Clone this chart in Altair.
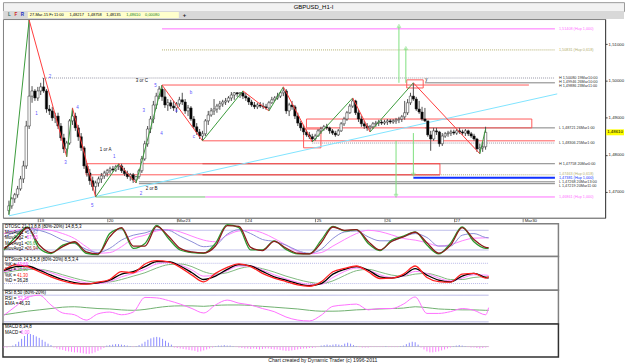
import altair as alt
import pandas as pd

FONT = "Liberation Sans"

# ---------------- GBPUSD H1 bars ----------------
first_open = 1.4649
bar_close = [1.4662, 1.4681, 1.4692, 1.4708, 1.4735, 1.4770, 1.4878, 1.4959, 1.4973, 1.4954,
             1.4973, 1.4984, 1.4973, 1.4924, 1.4919, 1.4900, 1.4905, 1.4878, 1.4846, 1.4816,
             1.4832, 1.4892, 1.4905, 1.4873, 1.4849, 1.4819, 1.4770, 1.4751, 1.4730, 1.4714,
             1.4724, 1.4735, 1.4743, 1.4751, 1.4757, 1.4762, 1.4759, 1.4768, 1.4770, 1.4757,
             1.4749, 1.4741, 1.4746, 1.4732, 1.4741, 1.4757, 1.4789, 1.4830, 1.4870, 1.4897,
             1.4935, 1.4959, 1.4978, 1.4957, 1.4935, 1.4941, 1.4932, 1.4927, 1.4938, 1.4949,
             1.4943, 1.4919, 1.4927, 1.4897, 1.4876, 1.4862, 1.4851, 1.4857, 1.4892, 1.4908,
             1.4919, 1.4924, 1.4932, 1.4938, 1.4943, 1.4946, 1.4954, 1.4962, 1.4968, 1.4965,
             1.4968, 1.4959, 1.4954, 1.4943, 1.4935, 1.4930, 1.4935, 1.4932, 1.4930, 1.4927,
             1.4941, 1.4949, 1.4954, 1.4959, 1.4968, 1.4973, 1.4919, 1.4935, 1.4930, 1.4905,
             1.4886, 1.4873, 1.4862, 1.4854, 1.4849, 1.4843, 1.4851, 1.4865, 1.4870, 1.4876,
             1.4873, 1.4865, 1.4859, 1.4854, 1.4865, 1.4884, 1.4897, 1.4914, 1.4932, 1.4946,
             1.4914, 1.4897, 1.4884, 1.4878, 1.4873, 1.4876, 1.4884, 1.4886, 1.4889, 1.4886,
             1.4889, 1.4892, 1.4889, 1.4892, 1.4895, 1.4897, 1.4903, 1.4914, 1.4941, 1.4959,
             1.4951, 1.4924, 1.4916, 1.4897, 1.4892, 1.4854, 1.4843, 1.4865, 1.4862, 1.4830,
             1.4851, 1.4857, 1.4859, 1.4862, 1.4859, 1.4865, 1.4862, 1.4859, 1.4865, 1.4857,
             1.4851, 1.4843, 1.4816, 1.4819, 1.4822, 1.4861]
bar_high = [1.4676, 1.4686, 1.4697, 1.4716, 1.4743, 1.4784, 1.4892, 1.5165, 1.4986, 1.4978,
            1.4984, 1.4995, 1.5008, 1.4978, 1.4935, 1.4930, 1.4914, 1.4914, 1.4886, 1.4857,
            1.4838, 1.4897, 1.4927, 1.4914, 1.4881, 1.4859, 1.4824, 1.4778, 1.4762, 1.4741,
            1.4730, 1.4741, 1.4751, 1.4757, 1.4762, 1.4768, 1.4770, 1.4773, 1.4776, 1.4776,
            1.4765, 1.4757, 1.4751, 1.4751, 1.4743, 1.4762, 1.4797, 1.4838, 1.4878, 1.4905,
            1.4946, 1.4968, 1.4986, 1.4989, 1.4978, 1.4951, 1.4949, 1.4946, 1.4943, 1.4957,
            1.4968, 1.4951, 1.4935, 1.4932, 1.4905, 1.4886, 1.4870, 1.4865, 1.4897, 1.4919,
            1.4927, 1.4951, 1.4938, 1.4946, 1.4949, 1.4954, 1.4959, 1.4970, 1.4970, 1.4970,
            1.4970, 1.4973, 1.4968, 1.4957, 1.4949, 1.4943, 1.4941, 1.4943, 1.4941, 1.4938,
            1.4946, 1.4957, 1.4959, 1.4968, 1.4973, 1.4984, 1.4978, 1.4941, 1.4946, 1.4935,
            1.4914, 1.4892, 1.4881, 1.4868, 1.4862, 1.4857, 1.4857, 1.4870, 1.4876, 1.4881,
            1.4884, 1.4876, 1.4870, 1.4865, 1.4870, 1.4889, 1.4903, 1.4919, 1.4938, 1.4954,
            1.4949, 1.4924, 1.4905, 1.4892, 1.4886, 1.4881, 1.4889, 1.4892, 1.4895, 1.4895,
            1.4895, 1.4897, 1.4897, 1.4897, 1.4900, 1.4903, 1.4908, 1.4946, 1.4951, 1.4968,
            1.4995, 1.4957, 1.4946, 1.4930, 1.4927, 1.4886, 1.4865, 1.4873, 1.4873, 1.4865,
            1.4859, 1.4862, 1.4865, 1.4868, 1.4868, 1.4870, 1.4873, 1.4868, 1.4870, 1.4868,
            1.4862, 1.4857, 1.4846, 1.4830, 1.4835, 1.4876]
bar_low = [1.4638, 1.4654, 1.4670, 1.4684, 1.4703, 1.4724, 1.4762, 1.4870, 1.4941, 1.4946,
           1.4946, 1.4962, 1.4968, 1.4914, 1.4908, 1.4892, 1.4886, 1.4870, 1.4838, 1.4805,
           1.4795, 1.4827, 1.4881, 1.4865, 1.4838, 1.4811, 1.4762, 1.4741, 1.4719, 1.4703,
           1.4686, 1.4714, 1.4724, 1.4735, 1.4741, 1.4749, 1.4754, 1.4754, 1.4759, 1.4751,
           1.4743, 1.4735, 1.4730, 1.4724, 1.4724, 1.4735, 1.4751, 1.4784, 1.4822, 1.4859,
           1.4886, 1.4924, 1.4951, 1.4946, 1.4927, 1.4919, 1.4924, 1.4919, 1.4914, 1.4930,
           1.4935, 1.4911, 1.4905, 1.4892, 1.4870, 1.4854, 1.4843, 1.4838, 1.4851, 1.4881,
           1.4903, 1.4908, 1.4914, 1.4922, 1.4930, 1.4935, 1.4941, 1.4946, 1.4949, 1.4957,
           1.4954, 1.4951, 1.4946, 1.4935, 1.4930, 1.4924, 1.4924, 1.4927, 1.4924, 1.4922,
           1.4919, 1.4938, 1.4946, 1.4949, 1.4954, 1.4959, 1.4911, 1.4905, 1.4922, 1.4897,
           1.4878, 1.4865, 1.4854, 1.4849, 1.4843, 1.4835, 1.4838, 1.4849, 1.4857, 1.4865,
           1.4868, 1.4857, 1.4854, 1.4849, 1.4851, 1.4862, 1.4878, 1.4892, 1.4911, 1.4927,
           1.4908, 1.4889, 1.4876, 1.4870, 1.4865, 1.4862, 1.4870, 1.4876, 1.4878, 1.4881,
           1.4881, 1.4881, 1.4884, 1.4884, 1.4884, 1.4886, 1.4889, 1.4895, 1.4908, 1.4935,
           1.4946, 1.4919, 1.4911, 1.4892, 1.4889, 1.4849, 1.4811, 1.4838, 1.4854, 1.4822,
           1.4824, 1.4846, 1.4849, 1.4851, 1.4854, 1.4854, 1.4857, 1.4854, 1.4851, 1.4851,
           1.4846, 1.4838, 1.4808, 1.4803, 1.4808, 1.4814]

day_ticks = [10, 34, 58, 82, 106, 130, 154, 178]
day_labels = ["19", "20", "Mar23", "24", "25", "26", "27", "Mar30"]
price_ticks = [1.47, 1.48, 1.49, 1.50, 1.51]
last_price = 1.4861

# zigzag pivots
zz_bar = [0, 7, 20, 22, 30, 38, 44, 53, 67, 81, 90, 95, 105, 119, 125, 140, 163, 165]
zz_price = [1.4638, 1.5165, 1.4795, 1.4927, 1.4686, 1.4776, 1.4724, 1.4989, 1.4838, 1.4973,
            1.4919, 1.4984, 1.4835, 1.4954, 1.4862, 1.4995, 1.4803, 1.4870]

# horizontal levels
lvl_price = [1.5141, 1.5084, 1.5008, 1.4995, 1.4989, 1.4873, 1.4838, 1.4832, 1.4776,
             1.4746, 1.4738, 1.4727, 1.4722, 1.4686, 1.4686, 1.4776, 1.4746]
lvl_from = [53, 53, 11.5, 144, 53, 144, 67, 105, 149, 140, 140, 45, 45, 30, 68, 67, 67]
lvl_to = [189, 189, 189, 189, 180, 189, 189, 189, 189, 189, 189, 189, 189, 68, 189, 149.2, 149.2]
lvl_kind = ["magenta", "olive", "grayd", "gray", "red", "gray", "red", "grayd", "gray",
            "olive", "blue", "gray", "gray", "green", "magenta", "brown", "brown"]

# level captions at the right end
cap_text = ["1,51408 (Hup 1,000)", "1,50831 (Hup 0,618)", "H 1,50080 19Mar10:00",
            "H 1,49946 26Mar10:00", "H 1,49886 23Mar11:00", "L 1,48721 26Mar1:00",
            "L 1,48306 25Mar1:00", "H 1,47758 20Mar0:00", "1,47463 (Hup 0,618)",
            "1,47381 (Hup 1,000)", "L 1,47268 20Mar13:00", "L 1,47219 20Mar11:00",
            "1,46861 (Hup 1,000)"]
cap_price = [1.5141, 1.5084, 1.5009, 1.4998, 1.4987, 1.4873, 1.4831, 1.4776, 1.4749,
             1.4738, 1.4727, 1.4716, 1.4686]
cap_kind = ["magenta", "olive", "black", "black", "black", "black", "black", "black",
            "olive", "blue", "black", "black", "magenta"]

# boxes
box_from = [103, 102, 137.7, 26.7]
box_to = [181, 108, 143.4, 149.2]
box_top = [1.4897, 1.4870, 1.5003, 1.4776]
box_bottom = [1.4873, 1.4819, 1.4981, 1.4746]

# cyan trend line
trend_bar = [0, 189.8]
trend_price = [1.4635, 1.4965]

# projection arrows
arrow_bar = [135, 137.4, 134, 140]
arrow_from = [1.4995, 1.4995, 1.4838, 1.4859]
arrow_to = [1.5149, 1.5089, 1.4689, 1.4746]
arrow_dir = ["up", "up", "down", "down"]

# wave labels
wave_text = ["1", "2", "3", "4", "5", "1 or A", "1", "2", "2 or B", "3", "4", "5",
             "3 or C", "a", "b", "c", "y"]
wave_bar = [9.5, 14.2, 19.6, 23.7, 28.8, 33.5, 36.5, 45.7, 49.4, 46.7, 52.8, 50.7,
            46, 57.9, 63, 64, 144.5]
wave_price = [1.4911, 1.5011, 1.4778, 1.4927, 1.4662, 1.4814, 1.4795, 1.4695, 1.4708,
              1.4919, 1.4857, 1.4986, 1.5000, 1.4919, 1.4968, 1.4849, 1.5003]
wave_kind = ["w", "w", "w", "w", "w", "t", "w", "w", "t", "w", "w", "w", "t", "w", "w", "w", "t"]

# ---------------- indicators ----------------
ind_bar = [0, 4, 8, 12, 16, 20, 24, 28, 32, 36, 40, 44, 48, 52, 56, 60, 64, 68, 72, 76, 80,
           84, 88, 92, 96, 100, 104, 108, 112, 116, 120, 124, 128, 132, 136, 140, 144, 148,
           152, 156, 160, 164, 165]
dtosc_green = [20, 60, 90, 25, 9, 35, 42, 10, 6, 70, 85, 25, 40, 95, 55, 20, 12, 10, 40, 97, 88,
               20, 20, 48, 22, 8, 8, 50, 92, 78, 82, 40, 18, 50, 62, 75, 35, 8, 40, 90, 45, 25, 25]
dtosc_maroon = [25, 50, 88, 35, 12, 30, 45, 14, 8, 60, 88, 32, 32, 92, 62, 25, 14, 11, 32, 94, 92,
                28, 18, 46, 26, 10, 8, 42, 90, 80, 82, 46, 20, 46, 60, 74, 42, 10, 34, 88, 52, 28, 27]
dtosc_blue = [60, 75, 85, 80, 68, 50, 40, 22, 12, 25, 50, 65, 72, 82, 80, 62, 45, 30, 35, 68, 82,
              70, 52, 46, 35, 18, 10, 22, 55, 75, 78, 60, 48, 48, 60, 70, 58, 32, 32, 65, 70, 58, 57]
dtosc_pink = [70, 80, 85, 84, 80, 70, 55, 30, 10, 12, 30, 55, 65, 78, 82, 75, 62, 50, 45, 65, 78,
              80, 72, 55, 35, 15, 8, 12, 32, 52, 70, 80, 76, 66, 55, 50, 42, 32, 36, 48, 56, 57, 57]

stoch_red = [60, 75, 70, 55, 40, 28, 20, 18, 24, 32, 55, 52, 78, 88, 84, 68, 45, 25, 50, 68, 78,
             70, 50, 36, 26, 16, 12, 25, 55, 65, 72, 55, 35, 36, 48, 72, 38, 26, 24, 48, 50, 36, 41]
stoch_black = [58, 70, 72, 60, 45, 32, 23, 19, 22, 30, 48, 55, 70, 85, 85, 72, 52, 32, 42, 62, 76,
               72, 56, 40, 30, 20, 14, 20, 48, 62, 70, 60, 40, 36, 44, 64, 45, 30, 25, 42, 50, 38, 36]
stoch_pink = [55, 62, 66, 62, 52, 40, 30, 22, 20, 26, 40, 50, 62, 78, 82, 75, 60, 42, 45, 58, 72,
              72, 60, 46, 34, 24, 18, 18, 38, 56, 66, 60, 46, 38, 42, 56, 50, 36, 28, 36, 46, 45, 44]
stoch_green = [52, 58, 62, 62, 56, 46, 36, 28, 24, 25, 32, 42, 52, 66, 76, 78, 70, 55, 48, 52, 64,
               70, 64, 54, 42, 32, 24, 20, 28, 44, 58, 62, 54, 45, 42, 48, 50, 42, 32, 32, 38, 40, 39]

rsi_line = [35, 55, 75, 80, 58, 40, 36, 24, 38, 42, 36, 42, 75, 74, 68, 60, 50, 40, 58, 69, 62,
            58, 50, 43, 31, 24, 22, 35, 55, 58, 60, 47, 50, 50, 60, 76, 39, 39, 43, 50, 46, 36, 52]
rsi_ema = [36, 40, 44, 47, 50, 53, 54, 52, 50, 49, 47, 46, 48, 52, 55, 56, 56, 55, 57, 58, 58,
           57, 55, 53, 51, 49, 46, 44, 44, 45, 47, 48, 49, 50, 51, 54, 52, 49, 48, 47, 47, 46, 46]

macd_hist = [-1, -1, -0.5, 1, 2.5, 5, 8, 11, 13, 13, 12, 10.5, 9, 7, 5, 3, 1.5, -1, -2, -3,
             -3.5, -4.5, -5, -5.5, -6, -6, -6.5, -7, -7.5, -7.5, -7, -6, -4.5, -3, -1.5, 1, 1.5, 2, 2.5, 2.5,
             2, 1.5, 1, 0.5, -0.5, 0.5, 1.5, 3, 5, 7, 8.5, 9.5, 10, 9.5, 8, 6, 4, 2, -1, -1.5,
             -2, -2.5, -3, -3.5, -4, -4.5, -5.5, -5, -4, -3, -2, -1, 0.5, 1, 1, 1.5, 1, 1, 0.5, -0.5,
             -1, -1.5, -2, -2, -2.5, -2, -2.5, -3, -2.5, -2, -2, -2.5, -3, -3, -3.5, -4, -4.5, -4.5, -4, -3.5,
             -3, -2.5, -2, -2, -1.5, -1.5, -1, -0.5, 1, 1.5, 2, 1.5, 2, 2.5, 2, 1.5, 3, 4, 3, 1.5,
             0.5, -0.5, -1, -1, -1, -0.5, -0.5, -0.5, -0.5, -0.5, 0.5, -0.5, -0.5, -0.5, -0.5, 0.5, 1, 2.5, 4, 5,
             4.5, 2, -1, -3, -5, -6, -6, -5.5, -5, -4, -3, -2, -1, 0.5, 1, 1.5, 1, 0.5, -0.5, -1,
             -1, -1.5, -2, -1.5, -1, -0.5]

# ---------------- helpers ----------------
COL = {"magenta": "#ff70ff", "olive": "#b4b070", "grayd": "#9898a8", "gray": "#808080",
       "red": "#ff5a5a", "blue": "#1030ff", "green": "#70c070", "brown": "#a02828",
       "black": "#303030"}

n = len(bar_close)
bar_open = [first_open] + bar_close[:-1]
bars = pd.DataFrame({"i": list(range(n)), "o": bar_open, "h": bar_high, "l": bar_low, "c": bar_close})
bars["top"] = bars[["o", "c"]].max(axis=1)
bars["bot"] = bars[["o", "c"]].min(axis=1)
bars["fill"] = ["#ffffff" if c >= o else "#000000" for o, c in zip(bar_open, bar_close)]

MAIN_X = alt.Scale(domain=[-0.34, 204.66], nice=False, zero=False)
MAIN_Y = alt.Scale(domain=[1.46297, 1.51676], nice=False, zero=False)
LOW_X = alt.Scale(domain=[-0.34, 188.77], nice=False, zero=False)

x_expr = " : ".join(f"datum.value == {t} ? '{lab}'" for t, lab in zip(day_ticks, day_labels)) + " : ''"
x_axis = alt.Axis(values=day_ticks, labelExpr=x_expr, grid=False, tickSize=4, labelFontSize=4.4,
                  labelFont=FONT, labelAlign="left", labelBaseline="top", labelPadding=-3,
                  labelOffset=1, domainColor="#808080", tickColor="#808080", labelColor="#202020",
                  title=None)
y_axis = alt.Axis(orient="right", values=price_ticks,
                  labelExpr="replace(format(datum.value, '.5f'), '.', ',')", grid=False,
                  tickSize=2, labelFontSize=4.3, labelFont=FONT, labelPadding=1,
                  domainColor="#404040", tickColor="#404040", labelColor="#202020", title=None)


def X(f):
    return alt.X(f"{f}:Q", scale=MAIN_X, axis=x_axis)


def Y(f):
    return alt.Y(f"{f}:Q", scale=MAIN_Y, axis=y_axis)


# levels
lv = pd.DataFrame({"p": lvl_price, "a": lvl_from, "b": lvl_to, "k": lvl_kind})
lv["col"] = lv.k.map(COL)
solid = lv[~lv.k.isin(["olive", "grayd", "blue"])]
dotted = lv[lv.k.isin(["olive", "grayd"])]
thick = lv[lv.k == "blue"]
lvl_solid = alt.Chart(solid).mark_rule(strokeWidth=1).encode(
    x=X("a"), x2="b:Q", y=Y("p"), color=alt.Color("col:N", scale=None))
lvl_dot = alt.Chart(dotted).mark_rule(strokeWidth=1, strokeDash=[1, 1]).encode(
    x=X("a"), x2="b:Q", y=Y("p"), color=alt.Color("col:N", scale=None))
lvl_thick = alt.Chart(thick).mark_rule(strokeWidth=2).encode(
    x=X("a"), x2="b:Q", y=Y("p"), color=alt.Color("col:N", scale=None))

boxes = pd.DataFrame({"a": box_from, "b": box_to, "t": box_top, "u": box_bottom})
box_layer = alt.Chart(boxes).mark_rect(fill=None, stroke="#ff5a5a", strokeWidth=1).encode(
    x=X("a"), x2="b:Q", y=Y("t"), y2="u:Q")

trend = pd.DataFrame({"a": [trend_bar[0]], "b": [trend_bar[1]], "p": [trend_price[0]], "q": [trend_price[1]]})
trend_layer = alt.Chart(trend).mark_rule(color="#80e4ff", strokeWidth=1).encode(
    x=X("a"), x2="b:Q", y=Y("p"), y2="q:Q")

wick = alt.Chart(bars).mark_rule(color="#505050", strokeWidth=1).encode(x=X("i"), y=Y("l"), y2="h:Q")
body = alt.Chart(bars).mark_bar(size=2.4, stroke="#202020", strokeWidth=0.5).encode(
    x=X("i"), y=Y("bot"), y2="top:Q", fill=alt.Fill("fill:N", scale=None))

zz = pd.DataFrame({"a": zz_bar[:-1], "b": zz_bar[1:], "p": zz_price[:-1], "q": zz_price[1:]})
zz["col"] = ["#3a9a3a" if q > p else "#ff3c3c" for p, q in zip(zz.p, zz.q)]
zz_layer = alt.Chart(zz).mark_rule(strokeWidth=1).encode(
    x=X("a"), x2="b:Q", y=Y("p"), y2="q:Q", color=alt.Color("col:N", scale=None))

arr = pd.DataFrame({"i": arrow_bar, "p": arrow_from, "q": arrow_to, "d": arrow_dir})
arrow_shaft = alt.Chart(arr).mark_rule(color="#7ee07e", strokeWidth=1).encode(x=X("i"), y=Y("p"), y2="q:Q")
arrow_up = alt.Chart(arr[arr.d == "up"]).mark_point(shape="triangle-up", size=14, color="#7ee07e",
                                                     filled=False, strokeWidth=0.8).encode(x=X("i"), y=Y("q"))
arrow_dn = alt.Chart(arr[arr.d == "down"]).mark_point(shape="triangle-down", size=14, color="#7ee07e",
                                                       filled=False, strokeWidth=0.8).encode(x=X("i"), y=Y("q"))

waves = pd.DataFrame({"i": wave_bar, "p": wave_price, "t": wave_text, "k": wave_kind})
waves["col"] = ["#5a50ff" if k == "w" else "#101010" for k in wave_kind]
wave_layer = alt.Chart(waves).mark_text(fontSize=4.5, font=FONT).encode(
    x=X("i"), y=Y("p"), text="t:N", color=alt.Color("col:N", scale=None))

caps = pd.DataFrame({"t": cap_text, "p": cap_price, "k": cap_kind})
caps["col"] = caps.k.map(COL)
caps["i"] = 190.4
cap_layer = alt.Chart(caps).mark_text(fontSize=3.8, font=FONT, align="left").encode(
    x=X("i"), y=Y("p"), text="t:N", color=alt.Color("col:N", scale=None))

cur = pd.DataFrame({"p": [last_price], "t": [format(last_price, ".5f").replace(".", ",")]})
cur["hi"] = cur.p + 0.0008
cur["lo"] = cur.p - 0.0008
cur_box = alt.Chart(cur).mark_rect(color="#ffff00").encode(
    x=alt.value(607), x2=alt.value(625), y=Y("hi"), y2="lo:Q")
cur_txt = alt.Chart(cur).mark_text(fontSize=4.4, font=FONT, color="#000000").encode(
    x=alt.value(616), y=Y("p"), text="t:N")

main = alt.layer(lvl_solid, lvl_dot, lvl_thick, box_layer, trend_layer, wick, body, zz_layer,
                 arrow_shaft, arrow_up, arrow_dn, wave_layer, cap_layer, cur_box, cur_txt).properties(
    width=606, height=200, view=alt.ViewBackground(fill="white", stroke="#808080", strokeWidth=1))

# ---------------- header ----------------
note_src = pd.DataFrame({"k": [0]})


def note(txt, x, y, color="#000000", size=4.5, weight="normal", align="left"):
    return alt.Chart(note_src).mark_text(text=txt, fontSize=size, font=FONT, color=color,
                                         fontWeight=weight, align=align, baseline="middle").encode(
        x=alt.value(x), y=alt.value(y))


title_bar = alt.Chart(pd.DataFrame({"t": ["GBPUSD_H1-I"]})).mark_text(
    fontSize=6, font=FONT, color="#000000").encode(text="t:N").properties(
    width=625, height=9, view=alt.ViewBackground(fill="#f2f2f2", stroke="#9a9a9a", strokeWidth=1))

info_box = alt.Chart(note_src).mark_rect(color="#ffffcc").encode(
    x=alt.value(25), x2=alt.value(177), y=alt.value(1), y2=alt.value(7))
toolbar = alt.layer(
    info_box,
    note("L", 5, 4, "#206a6a", 4.6, "bold"), note("F", 11.5, 4, "#d02020", 4.6, "bold"),
    note("R", 18, 4, "#2030c0", 4.6, "bold"),
    note("27-Mar-15 Fr 11:00", 27, 4, size=4), note("1,48217", 67, 4, size=4),
    note("1,48758", 85, 4, size=4), note("1,48135", 104, 4, size=4),
    note("1,48610", 124, 4, "#208020", 4), note("0,00080", 143, 4, "#208020", 4),
    note("+", 181, 4, "#202020", 6, "bold"),
).properties(width=625, height=8, view=alt.ViewBackground(fill="#d8d8d8", stroke=None))

spacer = alt.Chart(note_src).mark_point(opacity=0).properties(
    width=559, height=6, view=alt.ViewBackground(fill=None, stroke=None))


# ---------------- indicator panels ----------------
def panel(series, ydom, height, refs, notes, ref_dash=None, stroke="#808080"):
    ys = alt.Scale(domain=ydom, nice=False, zero=False)
    ref = pd.DataFrame({"v": refs, "a": [0] * len(refs), "b": [n - 1] * len(refs)})
    rl = alt.Chart(ref).mark_rule(color="#b8b8e8", strokeWidth=1,
                                   strokeDash=ref_dash if ref_dash else [1, 0]).encode(
        x=alt.X("a:Q", scale=LOW_X, axis=None), x2="b:Q", y=alt.Y("v:Q", scale=ys, axis=None))
    layers = [rl]
    for vals, color, w in series:
        df = pd.DataFrame({"i": ind_bar, "v": vals})
        layers.append(alt.Chart(df).mark_line(color=color, strokeWidth=w, interpolate="monotone").encode(
            x=alt.X("i:Q", scale=LOW_X, axis=None), y=alt.Y("v:Q", scale=ys, axis=None)))
    layers += notes
    return alt.layer(*layers).properties(
        width=559, height=height, view=alt.ViewBackground(fill="white", stroke=stroke, strokeWidth=1.5))


dtosc = panel(
    [(dtosc_pink, "#ff80ff", 1), (dtosc_blue, "#8c8cd8", 1), (dtosc_green, "#2e9a2e", 1.3),
     (dtosc_maroon, "#8b1c1c", 1.3)],
    [0, 100], 33, [80, 20],
    [note("DTOSC 21,13,8,8 (80%-20%) 14,8,5,3", 2, 3),
     note("MovAvg1 =", 2, 9), note("57,67", 24, 9, "#6060c0"),
     note("MovAvg2 =", 2, 14.5), note("57,45", 24, 14.5, "#ff50ff"),
     note("MovAvg1 =", 2, 20), note("26,67", 24, 20, "#2e9a2e"),
     note("MovAvg2 =", 2, 25.5), note("26,94", 24, 25.5, "#8b1c1c")])

stoch = panel(
    [(stoch_green, "#80b880", 1), (stoch_pink, "#ff80ff", 1), (stoch_black, "#000000", 1.3),
     (stoch_red, "#ff2020", 1.3)],
    [0, 100], 34, [80, 20],
    [note("DTStoch 14,3,5,8 (80%-20%) 8,5,3,4", 2, 3),
     note("%K =", 2, 8.5), note("43,69", 14, 8.5, "#ff50ff"),
     note("%D =", 2, 14), note("38,90", 14, 14, "#50a050"),
     note("%K =", 2, 19.5), note("41,30", 14, 19.5, "#ff2020"),
     note("%D =", 2, 25), note("36,28", 14, 25, "#000000")],
    ref_dash=[1, 1])

rsi = panel(
    [(rsi_ema, "#70b070", 1), (rsi_line, "#ff70ff", 1)],
    [15, 91], 34, [80, 20],
    [note("RSI 8,50 (80%-20%)", 2, 3),
     note("RSI =", 2, 8.5), note("52,36", 15, 8.5, "#ff50ff"),
     note("EMA =", 2, 14), note("46,33", 16, 14, "#000000")])

mac = pd.DataFrame({"i": list(range(len(macd_hist))), "v": macd_hist, "z": 0.0})
MY = alt.Scale(domain=[-10.7, 23.3], nice=False, zero=False)
mac_zero = alt.Chart(pd.DataFrame({"a": [0], "b": [n - 1], "v": [0]})).mark_rule(
    color="#c8c8c8", strokeWidth=1).encode(
    x=alt.X("a:Q", scale=LOW_X, axis=None), x2="b:Q", y=alt.Y("v:Q", scale=MY, axis=None))
mac_bars = alt.Chart(mac).mark_rule(strokeWidth=1).encode(
    x=alt.X("i:Q", scale=LOW_X, axis=None), y=alt.Y("z:Q", scale=MY, axis=None), y2="v:Q",
    color=alt.condition("datum.v >= 0", alt.value("#8c8cff"), alt.value("#ff80ff")))
macd = alt.layer(
    mac_zero, mac_bars, note("MACD 8,34,8", 2, 3), note("MACD =", 2, 8.5), note("0,00", 18, 8.5, "#ff50ff")
).properties(
    width=559, height=33, view=alt.ViewBackground(fill="white", stroke="#303030", strokeWidth=1.5),
    title=alt.TitleParams("Chart created by Dynamic Trader (c) 1996-2011", orient="bottom", anchor="start",
                          fontSize=5.2, font=FONT, fontWeight="normal", color="#202020", offset=1, dx=267))

chart = alt.vconcat(title_bar, toolbar, main, spacer, dtosc, stoch, rsi, macd,
                    spacing=0, bounds="flush").properties(
    padding={"left": 0, "top": 0, "right": 0, "bottom": 0}
).configure(background="white")

chart.save("out.html", embed_options={"renderer": "svg", "actions": False})
